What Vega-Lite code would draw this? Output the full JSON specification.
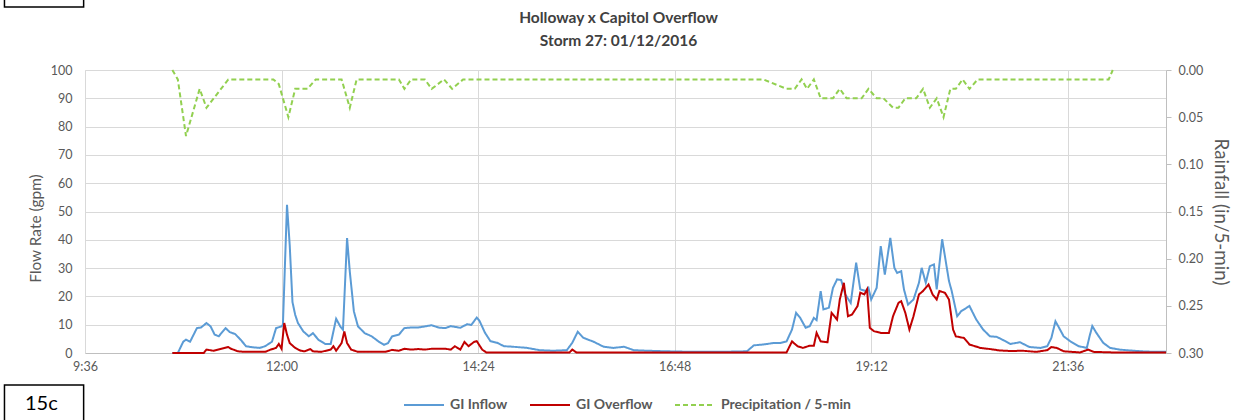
{
  "$schema": "https://vega.github.io/schema/vega-lite/v6.json",
  "width": 1081,
  "height": 283,
  "autosize": {"type": "none"},
  "padding": {"left": 85, "top": 70, "right": 79, "bottom": 67},
  "background": "white",
  "config": {
    "font": "Lato",
    "view": {"stroke": null},
    "legend": {
      "orient": "none",
      "legendX": 318,
      "legendY": 314,
      "direction": "horizontal",
      "symbolType": "stroke",
      "symbolSize": 1600,
      "symbolStrokeWidth": 2,
      "labelFont": "Lato",
      "labelFontSize": 14,
      "labelFontWeight": "bold",
      "labelColor": "#595959",
      "labelOffset": 5,
      "columnPadding": 18
    }
  },
  "title": {
    "text": ["Holloway x Capitol Overflow", "Storm 27: 01/12/2016"],
    "fontSize": 15.5,
    "fontWeight": "bold",
    "font": "Lato",
    "color": "#404040",
    "lineHeight": 23,
    "offset": -52,
    "dx": -7,
    "anchor": "middle"
  },
  "layer": [
    {
      "data": {
        "format": {"parse": {"t": "utc:'%H:%M'"}},
        "values": [
          {"t": "10:40", "s": "GI Inflow", "v": 0},
          {"t": "10:44", "s": "GI Inflow", "v": 0},
          {"t": "10:48", "s": "GI Inflow", "v": 4},
          {"t": "10:50", "s": "GI Inflow", "v": 4.7},
          {"t": "10:53", "s": "GI Inflow", "v": 4},
          {"t": "10:58", "s": "GI Inflow", "v": 8.8},
          {"t": "11:01", "s": "GI Inflow", "v": 9},
          {"t": "11:05", "s": "GI Inflow", "v": 10.6},
          {"t": "11:08", "s": "GI Inflow", "v": 9.4},
          {"t": "11:11", "s": "GI Inflow", "v": 6.5},
          {"t": "11:14", "s": "GI Inflow", "v": 5.9},
          {"t": "11:19", "s": "GI Inflow", "v": 8.8},
          {"t": "11:22", "s": "GI Inflow", "v": 7.4},
          {"t": "11:26", "s": "GI Inflow", "v": 6.7},
          {"t": "11:30", "s": "GI Inflow", "v": 4.7},
          {"t": "11:34", "s": "GI Inflow", "v": 2.4},
          {"t": "11:39", "s": "GI Inflow", "v": 2},
          {"t": "11:44", "s": "GI Inflow", "v": 1.8},
          {"t": "11:48", "s": "GI Inflow", "v": 2.4},
          {"t": "11:53", "s": "GI Inflow", "v": 4},
          {"t": "11:56", "s": "GI Inflow", "v": 8.8},
          {"t": "12:00", "s": "GI Inflow", "v": 9.4},
          {"t": "12:01", "s": "GI Inflow", "v": 10},
          {"t": "12:04", "s": "GI Inflow", "v": 52.4},
          {"t": "12:06", "s": "GI Inflow", "v": 38},
          {"t": "12:08", "s": "GI Inflow", "v": 18},
          {"t": "12:10", "s": "GI Inflow", "v": 13.5},
          {"t": "12:12", "s": "GI Inflow", "v": 10.6},
          {"t": "12:16", "s": "GI Inflow", "v": 7.6},
          {"t": "12:20", "s": "GI Inflow", "v": 5.9},
          {"t": "12:23", "s": "GI Inflow", "v": 7},
          {"t": "12:27", "s": "GI Inflow", "v": 4.7},
          {"t": "12:32", "s": "GI Inflow", "v": 3.2},
          {"t": "12:36", "s": "GI Inflow", "v": 3.2},
          {"t": "12:38", "s": "GI Inflow", "v": 7.6},
          {"t": "12:40", "s": "GI Inflow", "v": 12.1},
          {"t": "12:43", "s": "GI Inflow", "v": 9.4},
          {"t": "12:45", "s": "GI Inflow", "v": 8.2},
          {"t": "12:48", "s": "GI Inflow", "v": 40.6},
          {"t": "12:50", "s": "GI Inflow", "v": 28.8},
          {"t": "12:53", "s": "GI Inflow", "v": 14.7},
          {"t": "12:56", "s": "GI Inflow", "v": 9.4},
          {"t": "13:01", "s": "GI Inflow", "v": 7},
          {"t": "13:06", "s": "GI Inflow", "v": 5.9},
          {"t": "13:11", "s": "GI Inflow", "v": 4.1},
          {"t": "13:15", "s": "GI Inflow", "v": 2.9},
          {"t": "13:18", "s": "GI Inflow", "v": 3.5},
          {"t": "13:21", "s": "GI Inflow", "v": 5.9},
          {"t": "13:26", "s": "GI Inflow", "v": 6.5},
          {"t": "13:30", "s": "GI Inflow", "v": 8.8},
          {"t": "13:35", "s": "GI Inflow", "v": 9},
          {"t": "13:40", "s": "GI Inflow", "v": 9},
          {"t": "13:45", "s": "GI Inflow", "v": 9.4},
          {"t": "13:50", "s": "GI Inflow", "v": 9.8},
          {"t": "13:55", "s": "GI Inflow", "v": 9},
          {"t": "14:00", "s": "GI Inflow", "v": 8.8},
          {"t": "14:04", "s": "GI Inflow", "v": 9.5},
          {"t": "14:11", "s": "GI Inflow", "v": 8.9},
          {"t": "14:16", "s": "GI Inflow", "v": 10.2},
          {"t": "14:19", "s": "GI Inflow", "v": 9.9},
          {"t": "14:23", "s": "GI Inflow", "v": 12.5},
          {"t": "14:25", "s": "GI Inflow", "v": 11.4},
          {"t": "14:29", "s": "GI Inflow", "v": 7.2},
          {"t": "14:33", "s": "GI Inflow", "v": 4.2},
          {"t": "14:38", "s": "GI Inflow", "v": 3.6},
          {"t": "14:43", "s": "GI Inflow", "v": 2.4},
          {"t": "14:50", "s": "GI Inflow", "v": 2.2},
          {"t": "15:00", "s": "GI Inflow", "v": 1.8},
          {"t": "15:09", "s": "GI Inflow", "v": 1},
          {"t": "15:19", "s": "GI Inflow", "v": 0.8},
          {"t": "15:29", "s": "GI Inflow", "v": 1},
          {"t": "15:33", "s": "GI Inflow", "v": 3.6},
          {"t": "15:37", "s": "GI Inflow", "v": 7.5},
          {"t": "15:41", "s": "GI Inflow", "v": 5.4},
          {"t": "15:49", "s": "GI Inflow", "v": 3.9},
          {"t": "15:56", "s": "GI Inflow", "v": 2.2},
          {"t": "16:03", "s": "GI Inflow", "v": 1.8},
          {"t": "16:11", "s": "GI Inflow", "v": 2.2},
          {"t": "16:18", "s": "GI Inflow", "v": 1},
          {"t": "16:28", "s": "GI Inflow", "v": 0.8},
          {"t": "16:42", "s": "GI Inflow", "v": 0.6},
          {"t": "17:02", "s": "GI Inflow", "v": 0.4},
          {"t": "17:21", "s": "GI Inflow", "v": 0.4},
          {"t": "17:41", "s": "GI Inflow", "v": 0.6},
          {"t": "17:46", "s": "GI Inflow", "v": 2.7},
          {"t": "17:53", "s": "GI Inflow", "v": 3},
          {"t": "18:00", "s": "GI Inflow", "v": 3.5},
          {"t": "18:05", "s": "GI Inflow", "v": 3.5},
          {"t": "18:10", "s": "GI Inflow", "v": 4.1},
          {"t": "18:14", "s": "GI Inflow", "v": 8.3},
          {"t": "18:17", "s": "GI Inflow", "v": 14.2},
          {"t": "18:20", "s": "GI Inflow", "v": 12.4},
          {"t": "18:24", "s": "GI Inflow", "v": 8.9},
          {"t": "18:27", "s": "GI Inflow", "v": 9.5},
          {"t": "18:30", "s": "GI Inflow", "v": 12.4},
          {"t": "18:32", "s": "GI Inflow", "v": 11.6},
          {"t": "18:35", "s": "GI Inflow", "v": 21.9},
          {"t": "18:37", "s": "GI Inflow", "v": 15.4},
          {"t": "18:41", "s": "GI Inflow", "v": 16},
          {"t": "18:44", "s": "GI Inflow", "v": 23},
          {"t": "18:47", "s": "GI Inflow", "v": 26},
          {"t": "18:50", "s": "GI Inflow", "v": 25.8},
          {"t": "18:53", "s": "GI Inflow", "v": 20.7},
          {"t": "18:57", "s": "GI Inflow", "v": 17.7},
          {"t": "19:01", "s": "GI Inflow", "v": 31.9},
          {"t": "19:04", "s": "GI Inflow", "v": 22.5},
          {"t": "19:08", "s": "GI Inflow", "v": 21.9},
          {"t": "19:10", "s": "GI Inflow", "v": 23},
          {"t": "19:12", "s": "GI Inflow", "v": 18.9},
          {"t": "19:16", "s": "GI Inflow", "v": 23},
          {"t": "19:19", "s": "GI Inflow", "v": 37.8},
          {"t": "19:22", "s": "GI Inflow", "v": 27.7},
          {"t": "19:26", "s": "GI Inflow", "v": 40.7},
          {"t": "19:29", "s": "GI Inflow", "v": 30.1},
          {"t": "19:31", "s": "GI Inflow", "v": 28.3},
          {"t": "19:34", "s": "GI Inflow", "v": 28.9},
          {"t": "19:36", "s": "GI Inflow", "v": 22.5},
          {"t": "19:39", "s": "GI Inflow", "v": 17.1},
          {"t": "19:43", "s": "GI Inflow", "v": 18.9},
          {"t": "19:47", "s": "GI Inflow", "v": 24.8},
          {"t": "19:49", "s": "GI Inflow", "v": 30.1},
          {"t": "19:52", "s": "GI Inflow", "v": 24.8},
          {"t": "19:55", "s": "GI Inflow", "v": 30.7},
          {"t": "19:58", "s": "GI Inflow", "v": 31.3},
          {"t": "20:00", "s": "GI Inflow", "v": 22.5},
          {"t": "20:04", "s": "GI Inflow", "v": 40.2},
          {"t": "20:06", "s": "GI Inflow", "v": 34.3},
          {"t": "20:09", "s": "GI Inflow", "v": 25.4},
          {"t": "20:11", "s": "GI Inflow", "v": 21.9},
          {"t": "20:15", "s": "GI Inflow", "v": 13},
          {"t": "20:18", "s": "GI Inflow", "v": 14.8},
          {"t": "20:24", "s": "GI Inflow", "v": 16.6},
          {"t": "20:29", "s": "GI Inflow", "v": 11.8},
          {"t": "20:34", "s": "GI Inflow", "v": 8.3},
          {"t": "20:39", "s": "GI Inflow", "v": 5.9},
          {"t": "20:44", "s": "GI Inflow", "v": 5.7},
          {"t": "20:49", "s": "GI Inflow", "v": 4.5},
          {"t": "20:54", "s": "GI Inflow", "v": 3.2},
          {"t": "21:01", "s": "GI Inflow", "v": 3.8},
          {"t": "21:08", "s": "GI Inflow", "v": 2.1},
          {"t": "21:16", "s": "GI Inflow", "v": 1.8},
          {"t": "21:21", "s": "GI Inflow", "v": 2.4},
          {"t": "21:24", "s": "GI Inflow", "v": 5.3},
          {"t": "21:27", "s": "GI Inflow", "v": 11.2},
          {"t": "21:29", "s": "GI Inflow", "v": 9.5},
          {"t": "21:33", "s": "GI Inflow", "v": 5.9},
          {"t": "21:38", "s": "GI Inflow", "v": 4.1},
          {"t": "21:44", "s": "GI Inflow", "v": 2.4},
          {"t": "21:50", "s": "GI Inflow", "v": 1.8},
          {"t": "21:52", "s": "GI Inflow", "v": 5.9},
          {"t": "21:54", "s": "GI Inflow", "v": 9.5},
          {"t": "21:57", "s": "GI Inflow", "v": 7.1},
          {"t": "22:02", "s": "GI Inflow", "v": 3.6},
          {"t": "22:07", "s": "GI Inflow", "v": 1.8},
          {"t": "22:14", "s": "GI Inflow", "v": 1.2},
          {"t": "22:24", "s": "GI Inflow", "v": 0.8},
          {"t": "22:34", "s": "GI Inflow", "v": 0.5},
          {"t": "22:48", "s": "GI Inflow", "v": 0.4},

          {"t": "10:40", "s": "GI Overflow", "v": 0},
          {"t": "11:03", "s": "GI Overflow", "v": 0},
          {"t": "11:05", "s": "GI Overflow", "v": 1.2},
          {"t": "11:10", "s": "GI Overflow", "v": 0.8},
          {"t": "11:16", "s": "GI Overflow", "v": 1.5},
          {"t": "11:21", "s": "GI Overflow", "v": 2.1},
          {"t": "11:23", "s": "GI Overflow", "v": 1.5},
          {"t": "11:28", "s": "GI Overflow", "v": 0.6},
          {"t": "11:33", "s": "GI Overflow", "v": 0.4},
          {"t": "11:48", "s": "GI Overflow", "v": 0.4},
          {"t": "11:52", "s": "GI Overflow", "v": 1.2},
          {"t": "11:56", "s": "GI Overflow", "v": 1.8},
          {"t": "11:58", "s": "GI Overflow", "v": 3.2},
          {"t": "12:00", "s": "GI Overflow", "v": 1.5},
          {"t": "12:02", "s": "GI Overflow", "v": 10.6},
          {"t": "12:04", "s": "GI Overflow", "v": 6.5},
          {"t": "12:06", "s": "GI Overflow", "v": 3.5},
          {"t": "12:10", "s": "GI Overflow", "v": 1.8},
          {"t": "12:14", "s": "GI Overflow", "v": 0.8},
          {"t": "12:17", "s": "GI Overflow", "v": 0.6},
          {"t": "12:21", "s": "GI Overflow", "v": 1.4},
          {"t": "12:23", "s": "GI Overflow", "v": 0.6},
          {"t": "12:29", "s": "GI Overflow", "v": 0.4},
          {"t": "12:36", "s": "GI Overflow", "v": 1.2},
          {"t": "12:38", "s": "GI Overflow", "v": 2.4},
          {"t": "12:40", "s": "GI Overflow", "v": 0.8},
          {"t": "12:44", "s": "GI Overflow", "v": 3.5},
          {"t": "12:46", "s": "GI Overflow", "v": 7.6},
          {"t": "12:48", "s": "GI Overflow", "v": 3.5},
          {"t": "12:51", "s": "GI Overflow", "v": 1.2},
          {"t": "12:56", "s": "GI Overflow", "v": 0.4},
          {"t": "13:16", "s": "GI Overflow", "v": 0.4},
          {"t": "13:21", "s": "GI Overflow", "v": 1.1},
          {"t": "13:26", "s": "GI Overflow", "v": 0.8},
          {"t": "13:30", "s": "GI Overflow", "v": 1.5},
          {"t": "13:35", "s": "GI Overflow", "v": 1.2},
          {"t": "13:40", "s": "GI Overflow", "v": 1.4},
          {"t": "13:45", "s": "GI Overflow", "v": 1.2},
          {"t": "13:50", "s": "GI Overflow", "v": 1.5},
          {"t": "14:00", "s": "GI Overflow", "v": 1.5},
          {"t": "14:04", "s": "GI Overflow", "v": 1.2},
          {"t": "14:07", "s": "GI Overflow", "v": 2.4},
          {"t": "14:11", "s": "GI Overflow", "v": 1.2},
          {"t": "14:14", "s": "GI Overflow", "v": 3.9},
          {"t": "14:17", "s": "GI Overflow", "v": 2.4},
          {"t": "14:21", "s": "GI Overflow", "v": 3.9},
          {"t": "14:23", "s": "GI Overflow", "v": 4.2},
          {"t": "14:27", "s": "GI Overflow", "v": 1.2},
          {"t": "14:30", "s": "GI Overflow", "v": 0.2},
          {"t": "15:31", "s": "GI Overflow", "v": 0.2},
          {"t": "15:33", "s": "GI Overflow", "v": 1.2},
          {"t": "15:36", "s": "GI Overflow", "v": 0.2},
          {"t": "18:10", "s": "GI Overflow", "v": 0.2},
          {"t": "18:14", "s": "GI Overflow", "v": 4.1},
          {"t": "18:18", "s": "GI Overflow", "v": 2.4},
          {"t": "18:22", "s": "GI Overflow", "v": 1.8},
          {"t": "18:27", "s": "GI Overflow", "v": 2.6},
          {"t": "18:30", "s": "GI Overflow", "v": 2.6},
          {"t": "18:32", "s": "GI Overflow", "v": 7.1},
          {"t": "18:35", "s": "GI Overflow", "v": 4.1},
          {"t": "18:40", "s": "GI Overflow", "v": 3.8},
          {"t": "18:43", "s": "GI Overflow", "v": 14.2},
          {"t": "18:47", "s": "GI Overflow", "v": 11.8},
          {"t": "18:49", "s": "GI Overflow", "v": 18.9},
          {"t": "18:52", "s": "GI Overflow", "v": 24.8},
          {"t": "18:55", "s": "GI Overflow", "v": 13},
          {"t": "18:58", "s": "GI Overflow", "v": 13.6},
          {"t": "19:02", "s": "GI Overflow", "v": 16.6},
          {"t": "19:04", "s": "GI Overflow", "v": 21.3},
          {"t": "19:07", "s": "GI Overflow", "v": 20.7},
          {"t": "19:09", "s": "GI Overflow", "v": 22.5},
          {"t": "19:11", "s": "GI Overflow", "v": 8.9},
          {"t": "19:14", "s": "GI Overflow", "v": 7.7},
          {"t": "19:19", "s": "GI Overflow", "v": 7.1},
          {"t": "19:25", "s": "GI Overflow", "v": 7.1},
          {"t": "19:28", "s": "GI Overflow", "v": 13},
          {"t": "19:32", "s": "GI Overflow", "v": 17.7},
          {"t": "19:34", "s": "GI Overflow", "v": 18.3},
          {"t": "19:37", "s": "GI Overflow", "v": 14.2},
          {"t": "19:40", "s": "GI Overflow", "v": 8.3},
          {"t": "19:43", "s": "GI Overflow", "v": 13},
          {"t": "19:47", "s": "GI Overflow", "v": 20.7},
          {"t": "19:50", "s": "GI Overflow", "v": 21.9},
          {"t": "19:54", "s": "GI Overflow", "v": 24.2},
          {"t": "19:57", "s": "GI Overflow", "v": 20.7},
          {"t": "20:00", "s": "GI Overflow", "v": 18.9},
          {"t": "20:02", "s": "GI Overflow", "v": 21.9},
          {"t": "20:06", "s": "GI Overflow", "v": 21.3},
          {"t": "20:09", "s": "GI Overflow", "v": 18.9},
          {"t": "20:12", "s": "GI Overflow", "v": 8.3},
          {"t": "20:14", "s": "GI Overflow", "v": 5.9},
          {"t": "20:20", "s": "GI Overflow", "v": 5.3},
          {"t": "20:24", "s": "GI Overflow", "v": 3},
          {"t": "20:32", "s": "GI Overflow", "v": 1.8},
          {"t": "20:39", "s": "GI Overflow", "v": 1.4},
          {"t": "20:46", "s": "GI Overflow", "v": 0.9},
          {"t": "20:54", "s": "GI Overflow", "v": 0.7},
          {"t": "21:03", "s": "GI Overflow", "v": 0.8},
          {"t": "21:13", "s": "GI Overflow", "v": 0.4},
          {"t": "21:21", "s": "GI Overflow", "v": 1},
          {"t": "21:24", "s": "GI Overflow", "v": 2.1},
          {"t": "21:28", "s": "GI Overflow", "v": 1.8},
          {"t": "21:33", "s": "GI Overflow", "v": 0.6},
          {"t": "21:45", "s": "GI Overflow", "v": 0.2},
          {"t": "21:51", "s": "GI Overflow", "v": 1.2},
          {"t": "21:55", "s": "GI Overflow", "v": 0.4},
          {"t": "22:09", "s": "GI Overflow", "v": 0.2},
          {"t": "22:48", "s": "GI Overflow", "v": 0.2}
        ]
      },
      "mark": {"type": "line", "strokeWidth": 2},
      "encoding": {
        "x": {
          "field": "t",
          "type": "temporal",
          "scale": {
            "type": "utc",
            "domain": [
              {"year": 1900, "month": 1, "date": 1, "hours": 9, "minutes": 36, "utc": true},
              {"year": 1900, "month": 1, "date": 1, "hours": 22, "minutes": 48, "utc": true}
            ]
          },
          "axis": {
            "title": null,
            "values": [
              {"year": 1900, "month": 1, "date": 1, "hours": 9, "minutes": 36, "utc": true},
              {"year": 1900, "month": 1, "date": 1, "hours": 12, "minutes": 0, "utc": true},
              {"year": 1900, "month": 1, "date": 1, "hours": 14, "minutes": 24, "utc": true},
              {"year": 1900, "month": 1, "date": 1, "hours": 16, "minutes": 48, "utc": true},
              {"year": 1900, "month": 1, "date": 1, "hours": 19, "minutes": 12, "utc": true},
              {"year": 1900, "month": 1, "date": 1, "hours": 21, "minutes": 36, "utc": true}
            ],
            "format": "%-H:%M",
            "grid": true,
            "gridColor": "#d9d9d9",
            "ticks": false,
            "domainColor": "#bfbfbf",
            "labelColor": "#595959",
            "labelFontSize": 12.5,
            "labelPadding": 7,
            "labelFlush": false
          }
        },
        "y": {
          "field": "v",
          "type": "quantitative",
          "scale": {"domain": [0, 100]},
          "axis": {
            "title": "Flow Rate (gpm)",
            "values": [0, 10, 20, 30, 40, 50, 60, 70, 80, 90, 100],
            "grid": true,
            "gridColor": "#d9d9d9",
            "ticks": false,
            "domainColor": "#d9d9d9",
            "labelColor": "#595959",
            "labelFontSize": 12.5,
            "labelPadding": 13,
            "labelOverlap": false,
            "titleFontSize": 15.4,
            "titleFontWeight": "normal",
            "titleColor": "#595959",
            "titlePadding": 7,
            "titleY": 158
          }
        },
        "color": {
          "field": "s",
          "type": "nominal",
          "scale": {
            "domain": ["GI Inflow", "GI Overflow", "Precipitation / 5-min"],
            "range": ["#5b9bd5", "#c00000", "#92d050"]
          },
          "legend": {"title": null}
        },
        "strokeDash": {
          "field": "s",
          "type": "nominal",
          "scale": {
            "domain": ["GI Inflow", "GI Overflow", "Precipitation / 5-min"],
            "range": [[1, 0], [1, 0], [5, 3]]
          },
          "legend": {"title": null}
        }
      }
    },
    {
      "data": {
        "format": {"parse": {"t": "utc:'%H:%M'"}},
        "values": [
          {"t": "10:40", "s": "Precipitation / 5-min", "r": 0},
          {"t": "10:44", "s": "Precipitation / 5-min", "r": 0.01},
          {"t": "10:50", "s": "Precipitation / 5-min", "r": 0.07},
          {"t": "11:00", "s": "Precipitation / 5-min", "r": 0.02},
          {"t": "11:05", "s": "Precipitation / 5-min", "r": 0.04},
          {"t": "11:21", "s": "Precipitation / 5-min", "r": 0.01},
          {"t": "11:54", "s": "Precipitation / 5-min", "r": 0.01},
          {"t": "11:58", "s": "Precipitation / 5-min", "r": 0.015},
          {"t": "12:05", "s": "Precipitation / 5-min", "r": 0.05},
          {"t": "12:10", "s": "Precipitation / 5-min", "r": 0.02},
          {"t": "12:19", "s": "Precipitation / 5-min", "r": 0.02},
          {"t": "12:25", "s": "Precipitation / 5-min", "r": 0.01},
          {"t": "12:44", "s": "Precipitation / 5-min", "r": 0.01},
          {"t": "12:50", "s": "Precipitation / 5-min", "r": 0.04},
          {"t": "12:55", "s": "Precipitation / 5-min", "r": 0.01},
          {"t": "13:26", "s": "Precipitation / 5-min", "r": 0.01},
          {"t": "13:30", "s": "Precipitation / 5-min", "r": 0.02},
          {"t": "13:35", "s": "Precipitation / 5-min", "r": 0.01},
          {"t": "13:45", "s": "Precipitation / 5-min", "r": 0.01},
          {"t": "13:50", "s": "Precipitation / 5-min", "r": 0.02},
          {"t": "13:59", "s": "Precipitation / 5-min", "r": 0.01},
          {"t": "14:05", "s": "Precipitation / 5-min", "r": 0.02},
          {"t": "14:13", "s": "Precipitation / 5-min", "r": 0.01},
          {"t": "17:53", "s": "Precipitation / 5-min", "r": 0.01},
          {"t": "18:10", "s": "Precipitation / 5-min", "r": 0.02},
          {"t": "18:16", "s": "Precipitation / 5-min", "r": 0.02},
          {"t": "18:21", "s": "Precipitation / 5-min", "r": 0.01},
          {"t": "18:25", "s": "Precipitation / 5-min", "r": 0.02},
          {"t": "18:30", "s": "Precipitation / 5-min", "r": 0.01},
          {"t": "18:35", "s": "Precipitation / 5-min", "r": 0.03},
          {"t": "18:44", "s": "Precipitation / 5-min", "r": 0.03},
          {"t": "18:49", "s": "Precipitation / 5-min", "r": 0.02},
          {"t": "18:54", "s": "Precipitation / 5-min", "r": 0.03},
          {"t": "19:05", "s": "Precipitation / 5-min", "r": 0.03},
          {"t": "19:10", "s": "Precipitation / 5-min", "r": 0.02},
          {"t": "19:16", "s": "Precipitation / 5-min", "r": 0.03},
          {"t": "19:21", "s": "Precipitation / 5-min", "r": 0.03},
          {"t": "19:28", "s": "Precipitation / 5-min", "r": 0.04},
          {"t": "19:32", "s": "Precipitation / 5-min", "r": 0.04},
          {"t": "19:37", "s": "Precipitation / 5-min", "r": 0.03},
          {"t": "19:45", "s": "Precipitation / 5-min", "r": 0.03},
          {"t": "19:50", "s": "Precipitation / 5-min", "r": 0.02},
          {"t": "19:55", "s": "Precipitation / 5-min", "r": 0.04},
          {"t": "20:00", "s": "Precipitation / 5-min", "r": 0.03},
          {"t": "20:05", "s": "Precipitation / 5-min", "r": 0.05},
          {"t": "20:10", "s": "Precipitation / 5-min", "r": 0.02},
          {"t": "20:14", "s": "Precipitation / 5-min", "r": 0.02},
          {"t": "20:19", "s": "Precipitation / 5-min", "r": 0.01},
          {"t": "20:24", "s": "Precipitation / 5-min", "r": 0.02},
          {"t": "20:30", "s": "Precipitation / 5-min", "r": 0.01},
          {"t": "22:06", "s": "Precipitation / 5-min", "r": 0.01},
          {"t": "22:09", "s": "Precipitation / 5-min", "r": 0}
        ]
      },
      "mark": {"type": "line", "strokeWidth": 2},
      "encoding": {
        "x": {"field": "t", "type": "temporal", "scale": {"type": "utc"}},
        "y": {
          "field": "r",
          "type": "quantitative",
          "scale": {"domain": [0, 0.3], "reverse": true},
          "axis": {
            "orient": "right",
            "title": "Rainfall (in/5-min)",
            "values": [0, 0.05, 0.1, 0.15, 0.2, 0.25, 0.3],
            "format": ".2f",
            "grid": false,
            "ticks": true,
            "tickSize": 5,
            "tickColor": "#bfbfbf",
            "domainColor": "#bfbfbf",
            "labelColor": "#595959",
            "labelFontSize": 12.5,
            "labelPadding": 7,
            "titleFontSize": 18.8,
            "titleFontWeight": "normal",
            "titleColor": "#595959",
            "titlePadding": 8
          }
        },
        "color": {"field": "s", "type": "nominal", "legend": {"title": null}},
        "strokeDash": {"field": "s", "type": "nominal", "legend": {"title": null}}
      }
    },
    {
      "data": {"values": [{"label": "15c"}]},
      "layer": [
        {
          "mark": {"type": "rect", "filled": false, "stroke": "#000000", "strokeWidth": 1.5},
          "encoding": {
            "x": {"datum": {"year": 1900, "month": 1, "date": 1, "hours": 8, "minutes": 37, "utc": true}, "type": "temporal", "scale": {"type": "utc"}},
            "x2": {"datum": {"year": 1900, "month": 1, "date": 1, "hours": 9, "minutes": 35, "utc": true}},
            "y": {"datum": -11.3, "type": "quantitative", "scale": {"domain": [0, 100]}, "axis": null},
            "y2": {"datum": -30}
          }
        },
        {
          "mark": {"type": "rect", "filled": false, "stroke": "#000000", "strokeWidth": 1.5},
          "encoding": {
            "x": {"datum": {"year": 1900, "month": 1, "date": 1, "hours": 8, "minutes": 37, "utc": true}, "type": "temporal", "scale": {"type": "utc"}},
            "x2": {"datum": {"year": 1900, "month": 1, "date": 1, "hours": 9, "minutes": 35, "utc": true}},
            "y": {"datum": 122.3, "type": "quantitative", "scale": {"domain": [0, 100]}, "axis": null},
            "y2": {"datum": 125.2}
          }
        },
        {
          "mark": {"type": "text", "fontSize": 20, "font": "Lato", "color": "#000000", "align": "center", "baseline": "middle"},
          "encoding": {
            "x": {"datum": {"year": 1900, "month": 1, "date": 1, "hours": 9, "minutes": 4, "utc": true}, "type": "temporal", "scale": {"type": "utc"}},
            "y": {"datum": -18, "type": "quantitative", "scale": {"domain": [0, 100]}, "axis": null},
            "text": {"field": "label", "type": "nominal"}
          }
        }
      ]
    }
  ],
  "resolve": {"scale": {"y": "independent"}}
}
